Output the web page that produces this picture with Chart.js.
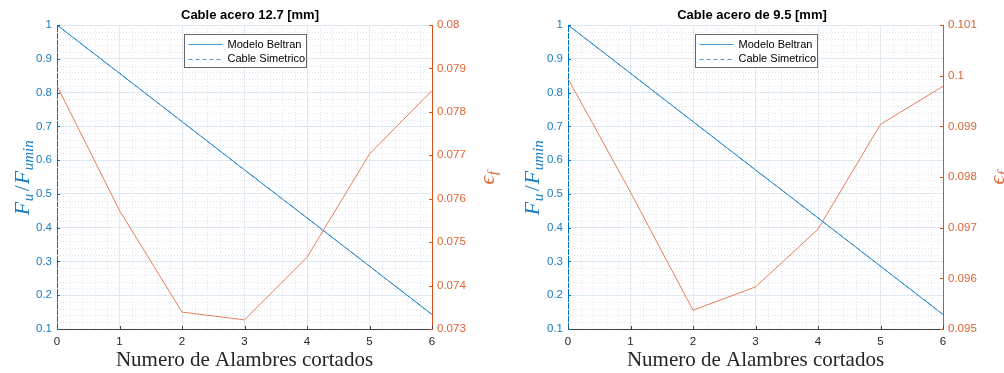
<!DOCTYPE html>
<html>
<head>
<meta charset="utf-8">
<script src="https://cdn.jsdelivr.net/npm/chart.js@4/dist/chart.umd.min.js"></script>
<style>
  body { margin: 0; background: #fff; }
  #wrap { position: relative; width: 1004px; height: 373px; overflow: hidden; }
  canvas { position: absolute; top: 0; }
</style>
</head>
<body>
<div id="wrap">
  <canvas id="c1" width="500" height="373" style="left:0"></canvas>
  <canvas id="c2" width="504" height="373" style="left:500px"></canvas>
</div>
<script>
// cut wires
var alambres = [0, 1, 2, 3, 4, 5, 6];
var xTicks = [0, 1, 2, 3, 4, 5, 6];

// ratio Fu/Fumin (same for both cables)
var beltran127 = [1, 0.857, 0.714, 0.571, 0.429, 0.286, 0.143];
var simetrico127 = [1, 0.857, 0.714, 0.571, 0.429, 0.286, 0.143];
var beltran95 = [1, 0.857, 0.714, 0.571, 0.429, 0.286, 0.143];
var simetrico95 = [1, 0.857, 0.714, 0.571, 0.429, 0.286, 0.143];

// strain eps_f
var eps127 = [0.0786, 0.07573, 0.07339, 0.07321, 0.07465, 0.07703, 0.07849];
var eps95 = [0.09994, 0.0977, 0.09537, 0.09583, 0.09697, 0.09904, 0.09979];

var yTicks = [0.1, 0.2, 0.3, 0.4, 0.5, 0.6, 0.7, 0.8, 0.9, 1];
var yLabels = ['0.1', '0.2', '0.3', '0.4', '0.5', '0.6', '0.7', '0.8', '0.9', '1'];
var epsTicks127 = [0.073, 0.074, 0.075, 0.076, 0.077, 0.078, 0.079, 0.08];
var epsLabels127 = ['0.073', '0.074', '0.075', '0.076', '0.077', '0.078', '0.079', '0.08'];
var epsTicks95 = [0.095, 0.096, 0.097, 0.098, 0.099, 0.1, 0.101];
var epsLabels95 = ['0.095', '0.096', '0.097', '0.098', '0.099', '0.1', '0.101'];

var BLUE = '#0072BD';
var ORANGE = '#D95319';

function pts(ys) {
    return alambres.map(function (x, i) { return { x: x, y: ys[i] }; });
}

function fontFor(p) {
    if (p.sub) return 'italic 15px "Liberation Serif"';
    if (p.up) return '22px "Liberation Serif"';
    return 'italic 22px "Liberation Serif"';
}

// draws text pieces with subscripts, rotated -90
function drawLatex(ctx, cx, cy, parts, color) {
    ctx.save();
    ctx.translate(cx, cy);
    ctx.rotate(-Math.PI / 2);
    ctx.fillStyle = color;
    ctx.textBaseline = 'alphabetic';
    var total = 0;
    parts.forEach(function (p) {
        ctx.font = fontFor(p);
        p.w = ctx.measureText(p.t).width + (p.sub ? 1.5 : (p.up ? 2 : 0.5));
        total += p.w;
    });
    var x = -total / 2;
    parts.forEach(function (p) {
        ctx.font = fontFor(p);
        ctx.fillText(p.t, x + (p.up ? 1 : 0), p.sub ? 11 : 7);
        x += p.w;
    });
    ctx.restore();
}

var extras = {
    id: 'extras',
    beforeDatasetsDraw: function (chart) {
        var ctx = chart.ctx, a = chart.chartArea;
        var sx = chart.scales.x, sy = chart.scales.y;
        ctx.save();
        ctx.strokeStyle = '#e0e6ec';
        ctx.lineWidth = 1;
        ctx.setLineDash([1, 2]);
        for (var i = 0; i < 30; i++) {
            if (i % 5 === 0) continue;
            var px = Math.round(sx.getPixelForValue(i * 0.2)) + 0.5;
            ctx.beginPath(); ctx.moveTo(px, a.top); ctx.lineTo(px, a.bottom); ctx.stroke();
        }
        for (var j = 0; j < 45; j++) {
            if (j % 5 === 0) continue;
            var py = Math.round(sy.getPixelForValue(0.1 + j * 0.02)) + 0.5;
            ctx.beginPath(); ctx.moveTo(a.left, py); ctx.lineTo(a.right, py); ctx.stroke();
        }
        ctx.restore();
    },
    afterDatasetsDraw: function (chart) {
        var ctx = chart.ctx, a = chart.chartArea;
        var sx = chart.scales.x, sy = chart.scales.y, sy2 = chart.scales.y2;
        ctx.save();
        ctx.lineWidth = 1;
        // inward ticks
        ctx.strokeStyle = '#404040';
        xTicks.forEach(function (v) {
            var px = Math.round(sx.getPixelForValue(v)) + 0.5;
            ctx.beginPath(); ctx.moveTo(px, a.bottom); ctx.lineTo(px, a.bottom - 3); ctx.stroke();
        });
        ctx.strokeStyle = BLUE;
        sy.ticks.forEach(function (t) {
            var py = Math.round(sy.getPixelForValue(t.value)) + 0.5;
            ctx.beginPath(); ctx.moveTo(a.left, py); ctx.lineTo(a.left + 3, py); ctx.stroke();
        });
        ctx.strokeStyle = ORANGE;
        sy2.ticks.forEach(function (t) {
            var py = Math.round(sy2.getPixelForValue(t.value)) + 0.5;
            ctx.beginPath(); ctx.moveTo(a.right, py); ctx.lineTo(a.right - 3, py); ctx.stroke();
        });

        // legend box
        var items = chart.data.datasets.filter(function (d) { return d.yAxisID === 'y'; });
        var bw = 122, bh = 33;
        var bx = Math.round((a.left + a.right) / 2 - bw / 2) + 0.5;
        var by = Math.round(a.top + 9) + 0.5;
        ctx.fillStyle = '#fff';
        ctx.fillRect(bx, by, bw, bh);
        ctx.strokeStyle = '#666';
        ctx.strokeRect(bx, by, bw, bh);
        ctx.font = '11px "Liberation Sans"';
        ctx.textBaseline = 'middle';
        items.forEach(function (d, k) {
            var ly = by + 9.5 + k * 14.5;
            ctx.strokeStyle = '#4a9ad6';
            ctx.setLineDash(d.borderDash || []);
            ctx.beginPath(); ctx.moveTo(bx + 4, Math.round(ly) + 0.5); ctx.lineTo(bx + 38, Math.round(ly) + 0.5); ctx.stroke();
            ctx.setLineDash([]);
            ctx.fillStyle = '#000';
            ctx.fillText(d.label, bx + 43, ly + 0.5);
        });
        ctx.restore();
    },
    afterDraw: function (chart) {
        var ctx = chart.ctx, a = chart.chartArea;
        var cy = (a.top + a.bottom) / 2;
        var o = chart.options.plugins.extras;
        drawLatex(ctx, o.leftLabelX, cy, [
            { t: 'F' }, { t: 'u', sub: true }, { t: '/', up: true }, { t: 'F' }, { t: 'umin', sub: true }
        ], '#1a7cc2');
        drawLatex(ctx, o.rightLabelX, cy, [
            { t: '\u03F5' }, { t: 'f', sub: true }
        ], '#dd6433');
    }
};

function makeChart(id, title, beltran, simetrico, eps, epsTicks, epsLabels, leftW, rightW, labL, labR) {
    var ctx = document.getElementById(id).getContext('2d');
    return new Chart(ctx, {
        type: 'line',
        data: {
            datasets: [{
                label: 'Modelo Beltran',
                data: pts(beltran),
                yAxisID: 'y',
                borderColor: '#2a86c9',
                borderWidth: 1,
                pointRadius: 0,
                tension: 0
            }, {
                label: 'Cable Simetrico',
                data: pts(simetrico),
                yAxisID: 'y',
                borderColor: '#3e95d4',
                borderDash: [4, 3],
                borderWidth: 1,
                pointRadius: 0,
                tension: 0
            }, {
                label: 'eps',
                data: pts(eps),
                yAxisID: 'y2',
                borderColor: '#e57f57',
                borderWidth: 1,
                pointRadius: 0,
                tension: 0
            }]
        },
        options: {
            responsive: false,
            animation: false,
            devicePixelRatio: 1,
            layout: { padding: 0 },
            plugins: {
                legend: { display: false },
                tooltip: { enabled: false },
                title: {
                    display: true,
                    text: title,
                    color: '#000',
                    font: { family: 'Liberation Sans', size: 13, weight: 'bold' },
                    padding: { top: 8, bottom: 1.4 }
                },
                extras: { leftLabelX: labL, rightLabelX: labR }
            },
            scales: {
                x: {
                    type: 'linear',
                    min: 0, max: 6,
                    afterBuildTicks: function (s) { s.ticks = xTicks.map(function (v) { return { value: v }; }); },
                    afterFit: function (s) { s.height = 44; },
                    grid: { color: '#e1e9f1', drawTicks: false },
                    border: { color: '#404040' },
                    ticks: { color: '#262626', padding: 6, maxRotation: 0, font: { family: 'Liberation Sans', size: 11.5 } },
                    title: {
                        display: true,
                        text: 'Numero de Alambres cortados',
                        color: '#262626',
                        padding: 0,
                        font: { family: 'Liberation Serif', size: 21 }
                    }
                },
                y: {
                    position: 'left',
                    min: 0.1, max: 1,
                    afterBuildTicks: function (s) { s.ticks = yTicks.map(function (v) { return { value: v }; }); },
                    afterFit: function (s) { s.width = leftW; },
                    grid: { color: '#dce8f2', drawTicks: false },
                    border: { color: BLUE },
                    ticks: {
                        color: '#1a7cc2', padding: 5,
                        font: { family: 'Liberation Sans', size: 11.5 },
                        callback: function (v, i) { return yLabels[i]; }
                    }
                },
                y2: {
                    position: 'right',
                    min: epsTicks[0], max: epsTicks[epsTicks.length - 1],
                    afterBuildTicks: function (s) { s.ticks = epsTicks.map(function (v) { return { value: v }; }); },
                    afterFit: function (s) { s.width = rightW; },
                    grid: { display: false, drawTicks: false },
                    border: { color: ORANGE },
                    ticks: {
                        color: '#dd6433', padding: 5,
                        font: { family: 'Liberation Sans', size: 11.5 },
                        callback: function (v, i) { return epsLabels[i]; }
                    }
                }
            }
        },
        plugins: [extras]
    });
}

makeChart('c1', 'Cable acero 12.7 [mm]', beltran127, simetrico127, eps127, epsTicks127, epsLabels127, 57, 68, 22, 487);
makeChart('c2', 'Cable acero de 9.5 [mm]', beltran95, simetrico95, eps95, epsTicks95, epsLabels95, 68, 61, 32, 497);
</script>
</body>
</html>
